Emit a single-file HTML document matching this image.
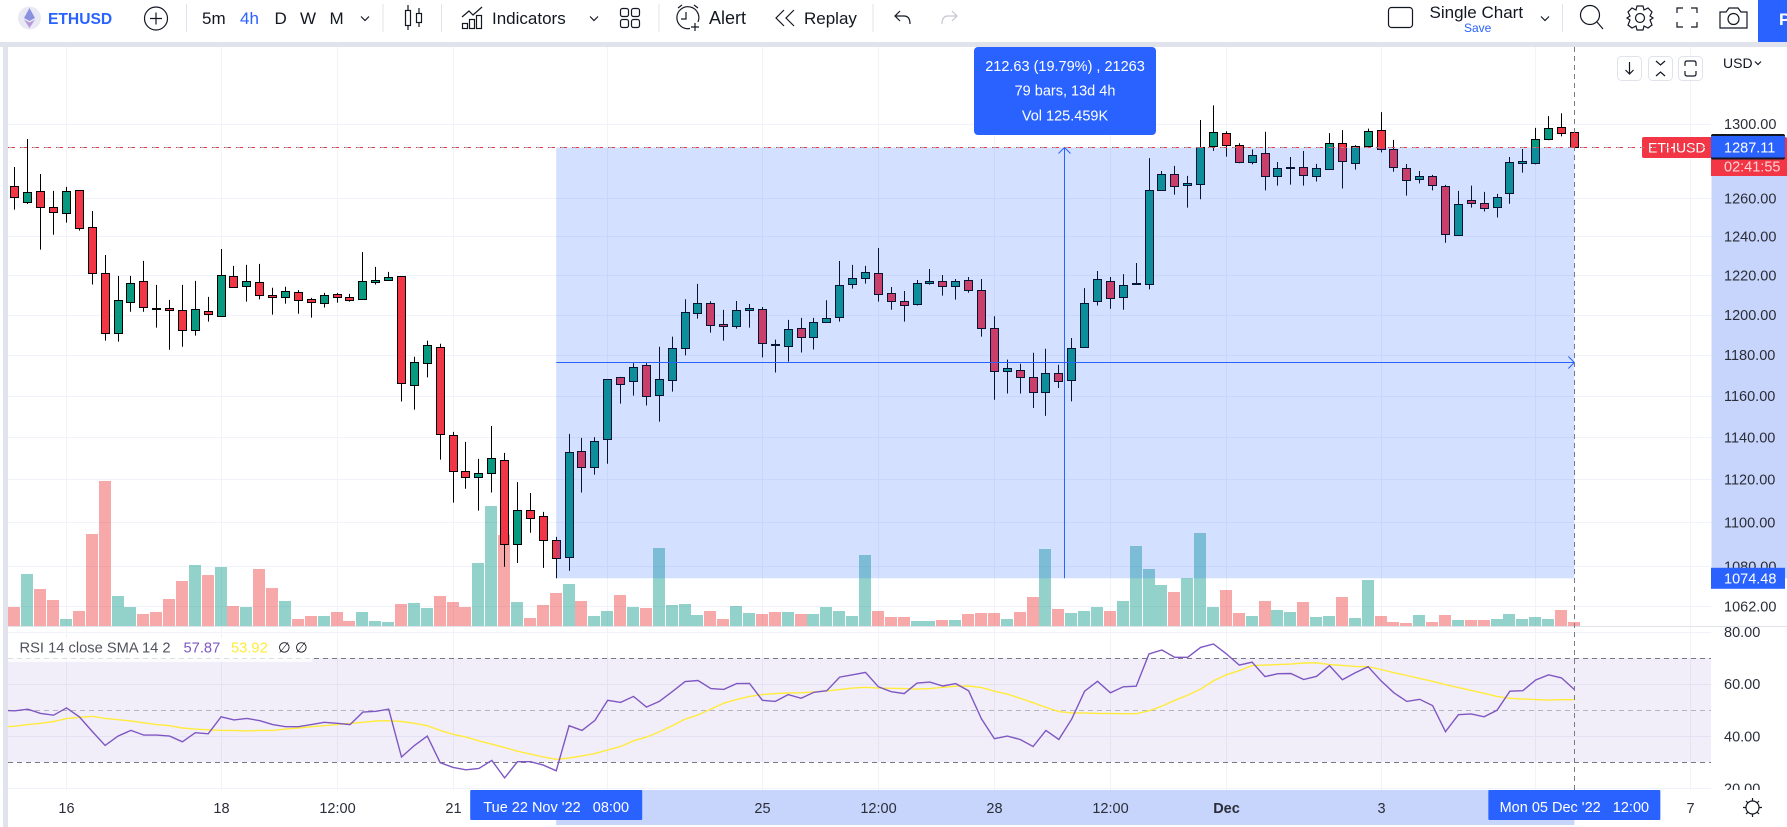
<!DOCTYPE html>
<html>
<head>
<meta charset="utf-8">
<title>ETHUSD chart</title>
<style>
html,body{margin:0;padding:0;background:#fff;width:1787px;height:827px;overflow:hidden}
svg{display:block;font-family:"Liberation Sans",sans-serif}
.tb{font-size:17px;fill:#131722}
.ic{fill:none;stroke:#131722;stroke-width:1.2}
.sep{stroke:#e0e3eb;stroke-width:1}
</style>
</head>
<body>
<svg id="chart" xmlns="http://www.w3.org/2000/svg" width="1787" height="827" viewBox="0 0 1787 827">
  <defs>
    <clipPath id="rsi-axis-clip"><rect x="1711" y="627" width="76" height="163"/></clipPath>
    <clipPath id="rsi-plot-clip"><rect x="8" y="627" width="1703" height="163"/></clipPath>
  </defs>
  <rect x="0" y="0" width="1787" height="827" fill="#fff"/>

  <g id="main-layer"></g>

  <rect x="0" y="42" width="1787" height="5" fill="#e0e3eb"/>
  <rect x="3" y="47" width="5" height="780" fill="#e0e3eb"/>

  <g>
    <g>
      <circle cx="29.5" cy="18" r="11.5" fill="#e9e9f6"/>
      <path d="M29.5 8 L35 18 L29.5 21 L24 18 Z" fill="#8a92e0"/>
      <path d="M29.5 22.5 L35 19.5 L29.5 28 L24 19.5 Z" fill="#b79ad8"/>
    </g>
    <text x="48" y="24" font-size="15.6" font-weight="bold" fill="#2962ff">ETHUSD</text>
    <g>
      <circle class="ic" cx="156" cy="18.5" r="11.5"/>
      <path class="ic" d="M150 18.5H162M156 12.5V24.5"/>
    </g>
    <line class="sep" x1="186.5" y1="4" x2="186.5" y2="32"/>
    <text class="tb" x="202" y="24">5m</text>
    <text class="tb" x="240" y="24" style="fill:#2962ff">4h</text>
    <text class="tb" x="274.5" y="24">D</text>
    <text class="tb" x="300" y="24">W</text>
    <text class="tb" x="329.5" y="24">M</text>
    <path class="ic" d="M361 16.5L365 20.5L369 16.5"/>
    <line class="sep" x1="383" y1="4" x2="383" y2="32"/>
    <g class="ic">
      <rect x="405.5" y="10.5" width="5" height="15"/><path d="M408 5V10.5M408 25.5V30"/>
      <rect x="416.5" y="13.5" width="5" height="9"/><path d="M419 8V13.5M419 22.5V27"/>
    </g>
    <line class="sep" x1="441.5" y1="4" x2="441.5" y2="32"/>
    <g class="ic">
      <path d="M462 17L469 11L473 15L482 7"/>
      <rect x="462.5" y="23.5" width="5" height="5"/><rect x="469.5" y="19.5" width="5" height="9"/><rect x="476.5" y="15.5" width="5" height="13"/>
    </g>
    <text class="tb" x="492" y="24">Indicators</text>
    <path class="ic" d="M590 16.5L594 20.5L598 16.5"/>
    <g class="ic">
      <rect x="620.5" y="8.5" width="8" height="8" rx="2"/><rect x="631.5" y="8.5" width="8" height="8" rx="2"/>
      <rect x="620.5" y="19.5" width="8" height="8" rx="2"/><rect x="631.5" y="19.5" width="8" height="8" rx="2"/>
    </g>
    <line class="sep" x1="659" y1="4" x2="659" y2="32"/>
    <g class="ic">
      <path d="M690 28.5A11 11 0 1 1 698 22"/>
      <path d="M686 12V19H681M678 8L682 5M694 5L698 8M695 23V31M691 27H699"/>
    </g>
    <text class="tb" x="709" y="24" style="font-size:18px">Alert</text>
    <g class="ic">
      <path d="M784 10L776 18L784 26M794 10L786 18L794 26"/>
    </g>
    <text class="tb" x="804" y="24">Replay</text>
    <line class="sep" x1="873" y1="4" x2="873" y2="32"/>
    <path class="ic" d="M900 11L895 16L900 21M895 16H904C908 16 910 19 910 24"/>
    <path class="ic" style="stroke:#c4c7d0" d="M952 11L957 16L952 21M957 16H948C944 16 942 19 942 24"/>
    <rect class="ic" x="1388.5" y="7.5" width="24" height="20" rx="3"/>
    <text class="tb" x="1429.5" y="18">Single Chart</text>
    <text x="1464" y="32" font-size="12" fill="#2962ff">Save</text>
    <path class="ic" d="M1541 16.5L1545 20.5L1549 16.5"/>
    <line class="sep" x1="1562.5" y1="4" x2="1562.5" y2="32"/>
    <g class="ic"><circle cx="1590" cy="15" r="9.5"/><path d="M1597 22L1603 29"/></g>
    <g class="ic">
      <circle cx="1640" cy="18" r="4.5"/>
      <path d="M1637 6H1643L1644 10L1648 8L1652 12L1650 16L1653 18L1650 20L1652 25L1648 28L1644 26L1643 30H1637L1636 26L1632 28L1628 25L1630 20L1627 18L1630 16L1628 12L1632 8L1636 10Z"/>
    </g>
    <path class="ic" d="M1677 13V8H1683M1691 8H1697V13M1697 22V27H1691M1683 27H1677V22"/>
    <g class="ic">
      <path d="M1720 12H1726L1729 8H1738L1741 12H1747V28H1720Z"/><circle cx="1733.5" cy="19" r="5.5"/>
    </g>
    <rect x="1758" y="0" width="29" height="42" fill="#2962ff"/>
    <text x="1779" y="25" font-size="17" font-weight="bold" fill="#fff">P</text>
  </g>

  <g>
    <g>
      <rect x="1617.5" y="56.5" width="24" height="24" rx="4" fill="#fff" stroke="#e0e3eb"/>
      <path class="ic" d="M1629.5 62V74M1625.5 70L1629.5 74L1633.5 70"/>
    </g>
    <g>
      <rect x="1648.5" y="56.5" width="24" height="24" rx="4" fill="#fff" stroke="#e0e3eb"/>
      <path class="ic" d="M1656 61L1660.5 65L1665 61M1656 76L1660.5 72L1665 76"/>
    </g>
    <g>
      <rect x="1678.5" y="56.5" width="24" height="24" rx="4" fill="#fff" stroke="#e0e3eb"/>
      <path class="ic" d="M1685 66V63Q1685 61 1687 61H1694Q1696 61 1696 63V66M1685 71V74Q1685 76 1687 76H1694Q1696 76 1696 74V71"/>
    </g>
    <text x="1723" y="68" font-size="14" fill="#131722">USD</text>
    <path class="ic" d="M1755 61.5L1758 64.5L1761 61.5"/>
  </g>

  <g>
    <circle class="ic" cx="1752.5" cy="807.5" r="6.5"/>
    <path class="ic" d="M1752.5 798V801M1752.5 814V817M1743 807.5H1746M1759 807.5H1762M1746 801L1748 803M1757 812L1759 814M1746 814L1748 812M1757 803L1759 801"/>
  </g>
</svg>

<script>
// ---- chart data (prices in USD; volumes in chart units) ----
const opens = [1266.4,1257.9,1263.7,1255.3,1252.1,1264.2,1244.7,1221.0,1190.7,1206.3,1216.9,1203.2,1203.2,1202.2,1192.2,1201.7,1199.2,1219.5,1214.4,1216.4,1209.8,1208.8,1211.4,1207.8,1205.8,1210.3,1208.8,1207.8,1216.4,1217.4,1219.5,1165.0,1175.9,1183.9,1140.9,1123.8,1120.9,1122.8,1129.0,1089.9,1105.6,1102.8,1091.8,1084.0,1133.3,1125.7,1138.9,1169.1,1167.1,1175.0,1160.1,1167.6,1183.3,1200.7,1205.8,1195.2,1194.2,1202.2,1202.7,1185.3,1184.3,1193.2,1188.7,1196.2,1198.7,1215.4,1218.4,1221.0,1210.8,1206.8,1205.3,1215.9,1216.9,1214.7,1217.4,1212.4,1193.2,1172.0,1172.5,1169.1,1161.8,1171.0,1167.7,1183.8,1206.8,1216.9,1208.8,1215.4,1215.4,1264.2,1272.8,1267.0,1267.5,1287.7,1294.9,1288.3,1279.1,1284.2,1271.8,1276.0,1276.6,1271.8,1275.5,1289.4,1278.6,1287.9,1296.5,1286.3,1276.0,1270.2,1271.8,1266.4,1240.6,1259.0,1257.4,1255.3,1262.6,1278.6,1278.6,1291.7,1298.0,1295.4];
const highs = [1276.6,1291.7,1272.9,1263.9,1266.0,1264.2,1253.3,1230.4,1219.7,1219.7,1227.4,1215.1,1207.5,1215.1,1217.1,1209.0,1233.5,1224.8,1225.3,1225.8,1213.6,1214.1,1212.4,1208.5,1211.0,1211.0,1210.5,1231.9,1224.3,1221.7,1219.5,1179.0,1187.0,1185.5,1142.5,1137.7,1129.6,1145.3,1132.5,1118.7,1113.6,1104.8,1093.3,1141.5,1139.6,1140.0,1168.1,1169.1,1175.9,1175.9,1184.0,1189.0,1207.8,1215.6,1206.8,1202.4,1206.9,1205.4,1203.9,1187.5,1197.4,1198.4,1198.4,1207.3,1227.3,1225.3,1224.8,1234.0,1214.0,1212.0,1217.6,1223.2,1220.1,1218.1,1219.1,1218.1,1199.2,1177.6,1175.6,1181.0,1183.0,1175.1,1188.3,1213.4,1222.2,1219.1,1220.6,1226.3,1281.4,1274.5,1277.2,1271.9,1302.0,1310.0,1295.9,1289.4,1286.0,1295.6,1279.3,1282.0,1285.2,1278.3,1294.9,1296.5,1288.4,1297.3,1306.3,1291.2,1278.2,1274.5,1272.4,1267.1,1263.9,1266.7,1263.4,1262.3,1282.0,1286.3,1297.7,1304.1,1305.7,1295.4];
const lows = [1254.0,1257.0,1233.2,1240.9,1247.2,1243.0,1215.3,1187.0,1186.5,1201.5,1201.5,1193.5,1182.5,1184.0,1189.5,1196.5,1199.2,1213.9,1206.6,1207.7,1200.0,1205.6,1200.5,1198.5,1203.6,1206.1,1206.6,1207.8,1215.3,1217.4,1157.1,1153.2,1168.9,1129.3,1109.1,1115.6,1105.4,1113.8,1079.7,1081.4,1095.2,1079.2,1074.5,1077.9,1113.8,1122.2,1127.3,1156.1,1160.0,1155.2,1147.4,1161.9,1179.7,1198.0,1191.0,1187.0,1193.0,1193.5,1178.7,1171.3,1176.6,1181.1,1182.6,1196.2,1196.5,1213.2,1215.7,1206.6,1202.5,1196.5,1204.6,1215.2,1209.6,1207.6,1211.1,1189.0,1158.0,1161.0,1161.0,1154.0,1150.2,1163.7,1157.2,1183.8,1204.6,1203.0,1202.5,1215.4,1212.8,1264.2,1261.9,1255.1,1259.5,1285.3,1282.2,1278.6,1278.0,1264.2,1266.7,1267.2,1266.7,1268.9,1275.2,1265.2,1275.2,1287.1,1284.5,1274.1,1261.4,1267.9,1264.2,1236.7,1240.6,1255.1,1253.0,1249.9,1257.1,1273.6,1278.0,1291.0,1293.1,1287.11];
const closes = [1260.5,1263.2,1255.3,1252.6,1263.7,1244.2,1221.0,1190.7,1207.3,1215.9,1203.7,1203.1,1202.2,1192.2,1202.7,1200.2,1220.0,1213.9,1216.9,1209.8,1208.8,1211.9,1207.3,1206.3,1209.8,1208.8,1207.3,1216.9,1217.4,1219.0,1166.0,1176.4,1184.9,1141.4,1123.8,1120.9,1122.8,1130.0,1090.0,1105.6,1101.9,1091.8,1083.5,1132.8,1125.7,1138.0,1168.1,1165.5,1174.0,1159.7,1168.1,1183.3,1201.2,1205.8,1194.7,1194.2,1202.2,1203.2,1185.8,1184.8,1192.7,1188.7,1196.2,1198.2,1214.9,1218.4,1221.5,1210.3,1206.8,1204.8,1215.9,1216.9,1214.4,1216.9,1212.4,1193.2,1172.0,1173.5,1169.1,1161.8,1171.0,1167.3,1183.3,1205.8,1218.0,1208.3,1214.9,1215.9,1264.2,1272.8,1266.4,1268.0,1287.1,1295.4,1288.3,1279.1,1283.1,1271.8,1276.0,1276.6,1272.3,1276.0,1289.4,1279.7,1287.9,1296.0,1286.3,1276.6,1269.6,1271.8,1267.0,1241.1,1256.9,1257.4,1254.8,1260.5,1279.1,1279.7,1291.7,1297.5,1294.9,1287.11];
const volumes = [19,52,37,26,7,15,92,145,30,19,12,14,27,45,61,51,59,20,19,57,38,25,7,10,10,14,5,14,5,4,22,23,18,30,24,19,63,120,91,24,8,21,33,42,25,10,15,31,19,18,78,21,22,11,15,7,20,13,12,14,14,12,12,19,15,10,71,15,9,9,5,5,6,6,12,13,13,7,14,29,77,17,13,15,19,15,25,80,57,41,34,48,93,19,36,13,10,25,16,14,24,9,10,29,8,46,10,4,3,11,4,11,6,6,6,7,12,7,9,7,16,4];
const rsiValues = [49.7,50.3,48.7,48.0,50.8,47.4,41.8,36.4,40,42.2,40.4,40.4,40,37.8,41.3,40.9,47.4,46.2,46.8,45.9,44.4,43.6,43.6,44.4,45.3,44.9,44.4,49.2,49.5,50.3,32,36.4,40,29.8,28,27.1,27.6,30.7,24,30.2,30.2,28.9,26.7,44,42.2,46,53.7,52.9,55.2,51.1,53.3,57,60.9,61.3,58.2,57.9,60.1,60.2,53.7,53.3,55.9,54.5,56.8,57.4,62.6,63.5,64.4,58.9,57,56.3,60.3,60.7,59.2,60.1,57.4,46.6,39,40,38.7,36,42.2,38.7,46.5,57.2,61,56.6,58.9,59.1,71.5,73,70.2,70.2,74,75.3,71.5,67.2,68.3,62.8,63.9,64,61.7,62.9,67,61.6,64.3,66.6,61.2,56.6,53.3,54.1,51.7,41.7,48.2,48.5,47.4,49.9,57.2,57.4,61.5,63.5,62.3,57.87];
const smaValues = [43.8,44.4,44.9,45.6,46.7,47.2,47.6,46.8,46.3,45.8,45.1,44.4,44,43.1,42.7,42.4,42.2,42.2,42,42.2,42.2,42.7,43.1,43.6,44,44.4,44.9,45.3,45.8,45.9,45.6,44.9,44,42.2,40.7,39.6,38.2,36.9,35.6,34.2,33.1,32,31.1,31.6,32.4,33.3,34.7,36,38.2,39.6,41.6,44,46.5,48.1,50.4,52.6,54,55.2,55.9,56.3,56.5,56.6,56.9,57.3,57.8,58.4,58.7,58.4,58.3,58.2,58,58.2,58.7,59.1,59.2,58.6,57.2,56.1,54.5,52.8,51,49.4,48.9,48.9,48.7,48.7,48.6,48.6,49.7,51.5,53.7,55.7,58,61.2,63.5,65.1,67,67.2,67.4,67.6,68,68.1,67.4,67.1,66.7,66.6,65.5,64.3,63.2,62.1,61,59.7,58.6,57.5,56.4,55.2,54.5,54.2,54,53.8,54,53.92];
const rsiBeforeFirstBar = 49.9;
const smaBeforeFirstBar = 43.4;
const priceTicks = [1300,1260,1240,1220,1200,1180,1160,1140,1120,1100,1080,1062];
const rsiTicks = [80,60,40,20];
const rsiLevels = [70,50,30];
const timeTickBars = [4,16,25,34,46,58,67,76,85,94,106,118,130];
const timeTickLabels = ['16','18','12:00','21','22','25','12:00','28','12:00','Dec','3','5','7'];
const lastPrice = 1287.11;
const measureLow = 1074.48;
const measureStartBar = 42;
const measureEndBar = 121;

// ---- axis functions ----
function barX(i){ return 14.9 + 12.888 * i; }
function barPx(i){ return Math.floor(barX(i)) + 0.5; }
function priceY(p){ return 123.7 + 2386 * Math.log(1300 / p); }
function volY(v){ return 626 - v; }
function rsiY(v){ return 631.7 + (80 - v) * 2.61; }

const SVGNS = 'http://www.w3.org/2000/svg';
const layer = document.getElementById('main-layer');
function make(tag, attrs, parent){
  const e = document.createElementNS(SVGNS, tag);
  for (const k in attrs) e.setAttribute(k, attrs[k]);
  (parent || layer).appendChild(e);
  return e;
}
const PLOT_L = 8, PLOT_R = 1711, GRID = '#f0f3fa', UP = '#089981', DOWN = '#f23645', BLUE = '#2962ff';
const VOL_UP = '#079989', VOL_DOWN = '#ed3939';

// grid
timeTickBars.forEach(function(b){
  const x = barPx(b);
  const v = make('line',{x1:x,y1:47,x2:x,y2:790,stroke:GRID,'stroke-width':1});
  
  
});
priceTicks.forEach(function(p){
  const y = Math.round(priceY(p)) + 0.5;
  const h = make('line',{x1:PLOT_L,y1:y,x2:PLOT_R,y2:y,stroke:GRID,'stroke-width':1});
  
  
});
rsiTicks.forEach(function(t){
  const y = Math.round(rsiY(t)) + 0.5;
  const h = make('line',{x1:PLOT_L,y1:y,x2:PLOT_R,y2:y,stroke:GRID,'stroke-width':1});
  
  
});

// volume bars
volumes.forEach(function(v,i){
  const isUp = closes[i] >= opens[i];
  const bar = make('rect',{x:Math.floor(barX(i)-6),y:volY(v),width:12,height:626-volY(v),fill:isUp?VOL_UP:VOL_DOWN,'fill-opacity':0.44});
  
  
});

// pane divider
const divider = make('rect',{x:PLOT_L,y:626,width:1787-PLOT_L,height:1,fill:'#e0e3eb'});



// candles
opens.forEach(function(o,i){
  const c = closes[i], isUp = c >= o, x = barPx(i);
  const wick = make('line',{x1:x,y1:priceY(highs[i]),x2:x,y2:priceY(lows[i]),stroke:'#000','stroke-width':1});
  
  
  const top = Math.round(priceY(Math.max(o,c))), bot = Math.round(priceY(Math.min(o,c)));
  const body = make('rect',{x:x-4,y:top+0.5,width:8,height:Math.max(bot-top,1),fill:isUp?UP:DOWN,stroke:'#000','stroke-width':1});
  
  
});

// RSI band and levels
const band = make('rect',{x:PLOT_L,y:rsiY(70),width:PLOT_R-PLOT_L,height:rsiY(30)-rsiY(70),fill:'#7e57c2','fill-opacity':0.1});


rsiLevels.forEach(function(l){
  const y = Math.round(rsiY(l)) + 0.5;
  const line = make('line',{x1:PLOT_L,y1:y,x2:PLOT_R,y2:y,stroke:'#787b86','stroke-width':1,'stroke-dasharray':'5 4','stroke-opacity':l===50?0.5:1});
  
  
});

// RSI lines (the series continues off the left edge of the pane)
function seriesPath(vals, before){
  const head = 'M' + barX(-1).toFixed(1) + ' ' + rsiY(before).toFixed(1);
  return head + vals.map(function(v,i){ return 'L' + barX(i).toFixed(1) + ' ' + rsiY(v).toFixed(1); }).join('');
}
const rsiLines = make('g',{'clip-path':'url(#rsi-plot-clip)'});


const smaLine = make('path',{d:seriesPath(smaValues,smaBeforeFirstBar),fill:'none',stroke:'#ffeb3b','stroke-width':1.4},rsiLines);


const rsiLine = make('path',{d:seriesPath(rsiValues,rsiBeforeFirstBar),fill:'none',stroke:'#7e57c2','stroke-width':1.4},rsiLines);



// RSI legend
const legendBg = make('rect',{x:PLOT_L,y:637,width:304,height:25,fill:'#fff','fill-opacity':0.75});


const legendParts = [
  {text:'RSI 14 close SMA 14 2', x:19.5, fill:'#50535e', name:'rsi-legend-title'},
  {text:'57.87', x:183.5, fill:'#7e57c2', name:'rsi-legend-value'},
  {text:'53.92', x:231, fill:'#ffeb3b', name:'rsi-legend-sma-value'},
  {text:'\u2205', x:278, fill:'#131722', name:'rsi-legend-empty-a'},
  {text:'\u2205', x:295, fill:'#131722', name:'rsi-legend-empty-b'}
];
legendParts.forEach(function(p){
  const t = make('text',{x:p.x,y:652.5,'font-size':14.7,fill:p.fill});
  t.textContent = p.text;
  
  
});

// price scale highlight (behind tick labels)
const lastY = priceY(lastPrice), lowY = priceY(measureLow);
const priceBand = make('rect',{x:1711.5,y:lastY,width:75.5,height:lowY-lastY,fill:'#c7d4fb'});



// price axis labels
priceTicks.forEach(function(p){
  const t = make('text',{x:1724,y:priceY(p)+5.2,'font-size':14.5,fill:'#2a2e39'});
  t.textContent = p.toFixed(2);
  
  
});
const rsiAxis = make('g',{'clip-path':'url(#rsi-axis-clip)'});


rsiTicks.forEach(function(v){
  const t = make('text',{x:1724,y:rsiY(v)+5.2,'font-size':14.5,fill:'#2a2e39'},rsiAxis);
  t.textContent = v.toFixed(2);
  
  
});

// time axis highlight and labels
const x0 = barX(measureStartBar), x1 = barX(measureEndBar);
const timeBand = make('rect',{x:x0,y:790,width:x1-x0,height:35,fill:'#c7d4fb'});


timeTickBars.forEach(function(b,i){
  const t = make('text',{x:barPx(b),y:813,'font-size':14.5,fill:'#2a2e39','text-anchor':'middle'});
  if (timeTickLabels[i] === 'Dec') t.setAttribute('font-weight','bold');
  t.textContent = timeTickLabels[i];
  
  
});

// measure overlay
const measureBox = make('rect',{x:x0,y:lastY,width:x1-x0,height:lowY-lastY,fill:BLUE,'fill-opacity':0.2});


const midX = Math.floor((x0+x1)/2) - 0.5;
const midY = Math.floor((lastY+lowY)/2) + 0.5;
const hLine = make('line',{x1:x0,y1:midY,x2:x1,y2:midY,stroke:BLUE,'stroke-width':1});


const hHead = make('path',{d:'M'+(x1-6)+' '+(midY-6)+'L'+x1+' '+midY+'L'+(x1-6)+' '+(midY+6),fill:'none',stroke:BLUE,'stroke-width':1});


const vLine = make('line',{x1:midX,y1:lastY,x2:midX,y2:lowY,stroke:BLUE,'stroke-width':1});


const vHead = make('path',{d:'M'+(midX-6)+' '+(lastY+6)+'L'+midX+' '+lastY+'L'+(midX+6)+' '+(lastY+6),fill:'none',stroke:BLUE,'stroke-width':1});



// crosshair
const crossX = barPx(measureEndBar);
const crossV = make('line',{x1:crossX,y1:47,x2:crossX,y2:790,stroke:'#787b86','stroke-width':1,'stroke-dasharray':'5 4'});



// measure tooltip
const tip = make('rect',{x:974,y:47,width:182,height:88,rx:4,fill:BLUE});


const tipLines = [['212.63 (19.79%) , 21263',71],['79 bars, 13d 4h',95.5],['Vol 125.459K',120.5]];
tipLines.forEach(function(l){
  const t = make('text',{x:1065,y:l[1],'font-size':14.5,fill:'#fff','text-anchor':'middle'});
  t.textContent = l[0];
  
  
});

// last price labels
const redLabel = make('rect',{x:1642,y:137,width:145,height:21,rx:2,fill:DOWN});


const redText = make('text',{x:1648,y:152.5,'font-size':14,fill:'#fff'});
redText.textContent = 'ETHUSD';


const cdBox = make('rect',{x:1711,y:155,width:76,height:21,fill:DOWN});


const cdText = make('text',{x:1724,y:171.5,'font-size':14.5,fill:'#ffd5d9'});
cdText.textContent = '02:41:55';


const priceBlack = make('rect',{x:1711,y:134,width:74,height:25.5,rx:2,fill:'#131722'});


const priceBlue = make('rect',{x:1711,y:136,width:74,height:21.5,fill:BLUE});


const priceText = make('text',{x:1724,y:152.5,'font-size':14.5,fill:'#fff'});
priceText.textContent = lastPrice.toFixed(2);



// last price dashed line
const lineY = Math.floor(lastY) + 0.5;
const priceDash = make('line',{x1:PLOT_L,y1:lineY,x2:PLOT_R,y2:lineY,stroke:'#9598a1','stroke-width':1,'stroke-dasharray':'7 5','stroke-opacity':0.85});


const priceDots = make('line',{x1:PLOT_L,y1:lineY,x2:PLOT_R,y2:lineY,stroke:DOWN,'stroke-width':1,'stroke-dasharray':'1 3 3 5'});



// low price label
const lowBox = make('rect',{x:1711,y:lowY-10.5,width:74,height:21,fill:BLUE});


const lowText = make('text',{x:1724,y:lowY+5.2,'font-size':14.5,fill:'#fff'});
lowText.textContent = measureLow.toFixed(2);



// date labels on time axis
[[measureStartBar,"Tue 22 Nov '22   08:00"],[measureEndBar,"Mon 05 Dec '22   12:00"]].forEach(function(d){
  const cx = barX(d[0]);
  const box = make('rect',{x:cx-86,y:790,width:172,height:30,rx:1,fill:BLUE});
  
  
  const t = make('text',{x:cx,y:812,'font-size':14.5,fill:'#fff','text-anchor':'middle','xml:space':'preserve'});
  t.style.whiteSpace = 'pre';
  t.textContent = d[1];
  
  
});
</script>
</body>
</html>
